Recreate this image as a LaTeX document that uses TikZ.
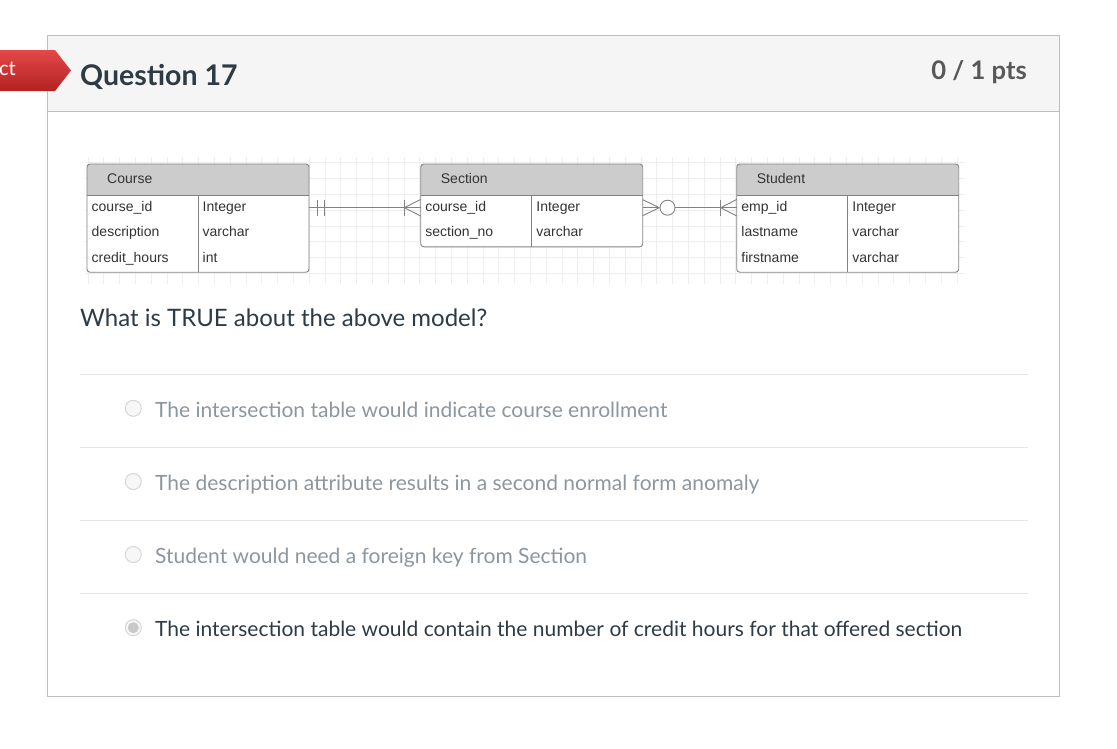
\documentclass[tikz,border=0pt]{standalone}
\usepackage{fontspec}
\setmainfont{Lato}
\newfontfamily\erfont{Liberation Sans}

\definecolor{panelline}{RGB}{190,190,190}
\definecolor{headfill}{RGB}{245,245,245}
\definecolor{titlecol}{RGB}{45,59,69}
\definecolor{ptscol}{RGB}{88,88,88}
\definecolor{optcol}{RGB}{139,150,158}
\definecolor{sepcol}{RGB}{230,230,230}
\definecolor{erline}{RGB}{130,130,130}
\definecolor{erhead}{RGB}{204,204,204}
\definecolor{ertext}{RGB}{51,51,51}
\definecolor{gridcol}{RGB}{238,238,238}
\definecolor{tagtop}{RGB}{228,72,72}
\definecolor{tagbot}{RGB}{178,34,34}
\definecolor{radioline}{RGB}{214,214,214}
\definecolor{radiodot}{RGB}{200,200,200}

\begin{document}
\begin{tikzpicture}[x=1pt, y=-1pt,
    erlabel/.style={inner sep=0pt, text=ertext, text height=10pt, text depth=3pt,
                    font=\erfont\fontsize{14}{17}\selectfont},
    erwire/.style={draw=erline, line width=0.9pt},
    radio/.style={circle, draw=radioline, fill=white!97!black, line width=1pt,
                  minimum size=16pt, inner sep=0pt},
    opttext/.style={inner sep=0pt, font=\fontsize{21}{25}\selectfont}]
    \useasboundingbox (0,0) rectangle (1117,748);

    % Panel and header bar
    \fill[headfill] (47,35) rectangle (1059,111);
    \draw[panelline] (47,111) -- (1059,111);
    \draw[panelline, line width=1pt] (47,35) rectangle (1059,696);

    % Result tag
    \shade[top color=tagtop, bottom color=tagbot]
        (-2,50) -- (55,50) -- (71,70.5) -- (55,91) -- (-2,91) -- cycle;
    \node[white, inner sep=0pt, anchor=base east, font=\fontsize{20}{24}\selectfont]
        (tag) at (16,75) {ct};

    % Title and score
    \node[inner sep=0pt, anchor=base west, text=titlecol,
          font=\bfseries\fontsize{28.5}{34}\selectfont] (qtitle) at (80,85) {Question 17};
    \node[inner sep=0pt, anchor=base east, text=ptscol,
          font=\bfseries\fontsize{25.6}{31}\selectfont] (qpts) at (1027,79.3) {0 / 1 pts};

    % Background grid of the model
    \foreach \gx in {0,...,55} {
        \draw[gridcol, line width=0.8pt] ({88+15.8*\gx},157) -- ++(0,127);
    }
    \foreach \gy in {0,...,7} {
        \draw[gridcol, line width=0.8pt] (85,{162.7+15.8*\gy}) -- ++(880,0);
    }

    % Tables
    \foreach \tname/\tx/\ttitle/\nrows/\rows in {
        crs/87/Course/3/{course\_id/Integer, description/varchar, credit\_hours/int},
        sec/420.7/Section/2/{course\_id/Integer, section\_no/varchar},
        stu/736.7/Student/3/{emp\_id/Integer, lastname/varchar, firstname/varchar}} {
        \pgfmathsetmacro{\tbot}{195.5+25.4*\nrows+0.5}
        \pgfmathsetmacro{\tright}{\tx+222}

        % Background
        \begin{scope}
            \clip[rounded corners=3pt] (\tx,164) rectangle (\tright,\tbot);
            \fill[white] (\tx,164) rectangle (\tright,\tbot);
            \fill[erhead] (\tx,164) rectangle (\tright,195.5);
        \end{scope}
        \draw[erwire, rounded corners=3pt] (\tx,164) rectangle (\tright,\tbot);
        \draw[erwire] (\tx,195.5) -- (\tright,195.5);
        \draw[erwire] ({\tx+111},195.5) -- ({\tx+111},\tbot);

        % Title
        \node[erlabel, anchor=west] (\tname-title) at ({\tx+20},180) {\ttitle};

        % Fields
        \foreach \fld/\typ [count=\i] in \rows {
            \pgfmathsetmacro{\ry}{195.5+12.2+25.4*(\i-1)}
            \node[erlabel, anchor=west] (\tname-f\i) at ({\tx+4.5},\ry) {\fld};
            \node[erlabel, anchor=west] (\tname-t\i) at ({\tx+115.5},\ry) {\typ};
            \coordinate (\tname-w\i) at (\tx,\ry);
            \coordinate (\tname-e\i) at (\tright,\ry);
        }
    }

    % Course to Section: one and only one -- one or many
    \draw[erwire] (crs-e1) -- (sec-w1);
    \draw[erwire] ([xshift=8.4]crs-e1) ++(0,-8) -- ++(0,16);
    \draw[erwire] ([xshift=15.7]crs-e1) ++(0,-8) -- ++(0,16);
    \draw[erwire] ([xshift=-16.4]sec-w1) ++(0,-8) -- ++(0,16);
    \draw[erwire] ([xshift=-16.4]sec-w1) -- ++(16.4,-8.3);
    \draw[erwire] ([xshift=-16.4]sec-w1) -- ++(16.4,8.3);

    % Section to Student: zero or many -- one or many
    \node[circle, erwire, fill=white, minimum size=15pt, inner sep=0pt]
        (zero) at ([xshift=24.8]sec-e1) {};
    \draw[erwire] (sec-e1) -- ([xshift=16.6]sec-e1);
    \draw[erwire] ([xshift=16.6]sec-e1) -- ++(-16.6,-8);
    \draw[erwire] ([xshift=16.6]sec-e1) -- ++(-16.6,8);
    \draw[erwire] (zero) -- (stu-w1);
    \draw[erwire] ([xshift=-16]stu-w1) ++(0,-8) -- ++(0,16);
    \draw[erwire] ([xshift=-16]stu-w1) -- ++(16,-8.3);
    \draw[erwire] ([xshift=-16]stu-w1) -- ++(16,8.3);

    % Question
    \node[inner sep=0pt, anchor=base west, text=titlecol,
          font=\fontsize{24}{29}\selectfont] (qtext) at (80,326.7)
        {What is TRUE about the above model?};

    % Separators
    \foreach \sy in {374, 447, 520, 593} {
        \draw[sepcol, line width=1pt] (80,\sy) -- (1028,\sy);
    }

    % Answers
    \foreach \opt/\oy/\ocol [count=\k] in {
        The intersection table would indicate course enrollment/417.3/optcol,
        The description attribute results in a second normal form anomaly/490.5/optcol,
        Student would need a foreign key from Section/563.5/optcol,
        The intersection table would contain the number of credit hours for that offered section/636.7/titlecol} {
        \node[radio] (radio\k) at (133.3,{\oy-9}) {};
        \node[opttext, text=\ocol, anchor=base west] (opt\k) at (155,\oy) {\opt};
    }
    \fill[radiodot] (radio4) circle (5.5pt);

\end{tikzpicture}
\end{document}
